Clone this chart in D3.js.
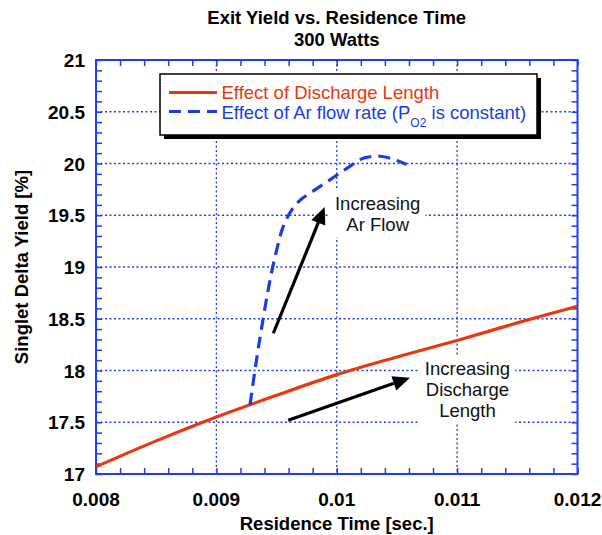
<!DOCTYPE html>
<html>
<head>
<meta charset="utf-8">
<script src="https://cdn.jsdelivr.net/npm/d3@7.9.0/dist/d3.min.js"></script>
<style>
  body { margin: 0; background: #fff; }
  svg { font-family: "Liberation Sans", Arial, sans-serif; }
</style>
</head>
<body>
<div id="chart"></div>
<script>
// Exit yield vs residence time, 300 W
const xTicks = [0.008, 0.009, 0.01, 0.011, 0.012];
const yTicks = [17, 17.5, 18, 18.5, 19, 19.5, 20, 20.5, 21];

// red: effect of discharge length
const lengthX = [0.008, 0.0085, 0.009, 0.0095, 0.01, 0.0105, 0.011, 0.0115, 0.012];
const lengthY = [17.07, 17.32, 17.55, 17.76, 17.96, 18.13, 18.29, 18.46, 18.62];

// blue: effect of Ar flow rate
const flowX = [0.00928, 0.00932, 0.00936, 0.009445, 0.0095, 0.009555, 0.009625, 0.0097, 0.0098, 0.00994, 0.01008, 0.01022, 0.01036, 0.0105, 0.01058];
const flowY = [17.67, 18.0, 18.3, 18.87, 19.16, 19.39, 19.55, 19.65, 19.73, 19.84, 19.95, 20.05, 20.07, 20.03, 19.99];

const RED = "#e8380f";
const BLUE = "#1a3ce6";
const GRID = "#1f3cf0";

const width = 602, height = 535;
const margin = { top: 60, right: 24.5, bottom: 61, left: 96 };

const svg = d3.select("#chart").append("svg")
  .attr("width", width)
  .attr("height", height);

const x = d3.scaleLinear().domain([0.008, 0.012]).range([margin.left, width - margin.right]);
const y = d3.scaleLinear().domain([17, 21]).range([height - margin.bottom, margin.top]);

// title
svg.append("text")
  .attr("x", (x.range()[0] + x.range()[1]) / 2).attr("y", 24)
  .attr("text-anchor", "middle").attr("font-weight", "bold").attr("font-size", 18.5)
  .text("Exit Yield vs. Residence Time");
svg.append("text")
  .attr("x", (x.range()[0] + x.range()[1]) / 2).attr("y", 46)
  .attr("text-anchor", "middle").attr("font-weight", "bold").attr("font-size", 18.5)
  .text("300 Watts");

// gridlines (dotted)
const grid = svg.append("g").attr("stroke", GRID).attr("stroke-width", 1.3).attr("stroke-dasharray", "2,2.5");
grid.selectAll(".gx").data(xTicks.slice(1, -1)).join("line")
  .attr("x1", d => x(d)).attr("x2", d => x(d))
  .attr("y1", y(21)).attr("y2", y(17));
grid.selectAll(".gy").data(yTicks.slice(1, -1)).join("line")
  .attr("x1", x(0.008)).attr("x2", x(0.012))
  .attr("y1", d => y(d)).attr("y2", d => y(d));

// minor ticks on all four sides, pointing inward
const xMinor = d3.range(0, 21).map(i => 0.008 + i * 0.0002);
const yMinor = d3.range(0, 41).map(i => 17 + i * 0.1);
const axisG = svg.append("g");
axisG.append("g").attr("transform", `translate(0,${y(17)})`)
  .call(d3.axisBottom(x).tickValues(xMinor).tickSizeInner(-6).tickSizeOuter(0).tickFormat(""));
axisG.append("g").attr("transform", `translate(0,${y(21)})`)
  .call(d3.axisTop(x).tickValues(xMinor).tickSizeInner(-6).tickSizeOuter(0).tickFormat(""));
axisG.append("g").attr("transform", `translate(${x(0.008)},0)`)
  .call(d3.axisLeft(y).tickValues(yMinor).tickSizeInner(-6).tickSizeOuter(0).tickFormat(""));
axisG.append("g").attr("transform", `translate(${x(0.012)},0)`)
  .call(d3.axisRight(y).tickValues(yMinor).tickSizeInner(-6).tickSizeOuter(0).tickFormat(""));
axisG.selectAll("line").attr("stroke", GRID).attr("stroke-width", 1.5);
axisG.selectAll(".domain").remove();

// frame
svg.append("rect")
  .attr("x", x(0.008)).attr("y", y(21))
  .attr("width", x(0.012) - x(0.008)).attr("height", y(17) - y(21))
  .attr("fill", "none").attr("stroke", GRID).attr("stroke-width", 2);

// tick labels
svg.append("g").selectAll("text").data(xTicks).join("text")
  .attr("x", d => x(d)).attr("y", y(17) + 32)
  .attr("text-anchor", "middle").attr("font-weight", "bold").attr("font-size", 19)
  .text(d => d3.format("")(d));
svg.append("g").selectAll("text").data(yTicks).join("text")
  .attr("x", x(0.008) - 11).attr("y", d => y(d) + 7)
  .attr("text-anchor", "end").attr("font-weight", "bold").attr("font-size", 19)
  .text(d => d);

// axis labels
svg.append("text")
  .attr("x", (x.range()[0] + x.range()[1]) / 2).attr("y", 530)
  .attr("text-anchor", "middle").attr("font-weight", "bold").attr("font-size", 18.5)
  .text("Residence Time [sec.]");
svg.append("text")
  .attr("transform", `translate(28,${(y(17) + y(21)) / 2}) rotate(-90)`)
  .attr("text-anchor", "middle").attr("font-weight", "bold").attr("font-size", 18.5)
  .text("Singlet Delta Yield [%]");

// annotation text with white boxes
function note(lines, cx, by) {
  const g = svg.append("g");
  const bg = g.append("rect").attr("fill", "#fff");
  const t = g.append("text").attr("text-anchor", "middle").attr("font-size", 18.5).attr("fill", "#111");
  lines.forEach((s, i) => {
    t.append("tspan").attr("x", x(cx)).attr("y", y(by) + i * 21).text(s);
  });
  const b = t.node().getBBox();
  bg.attr("x", b.x - 5).attr("y", b.y - 3).attr("width", b.width + 10).attr("height", b.height + 5);
}
note(["Increasing", "Ar Flow"], 0.01034, 19.55);
note(["Increasing", "Discharge", "Length"], 0.011086, 17.957);

// curves
const line = d3.line().x(d => x(d[0])).y(d => y(d[1])).curve(d3.curveCatmullRom);
svg.append("path")
  .datum(d3.zip(lengthX, lengthY))
  .attr("d", line).attr("fill", "none").attr("stroke", RED).attr("stroke-width", 3.2);
svg.append("path")
  .datum(d3.zip(flowX, flowY))
  .attr("d", line).attr("fill", "none").attr("stroke", BLUE).attr("stroke-width", 3.2)
  .attr("stroke-dasharray", "12,7");

// arrows
function arrow(x0, y0, x1, y1) {
  const px0 = x(x0), py0 = y(y0), px1 = x(x1), py1 = y(y1);
  const ang = Math.atan2(py1 - py0, px1 - px0);
  const L = 17, W = 7.5;
  const bx = px1 - L * Math.cos(ang), by = py1 - L * Math.sin(ang);
  svg.append("line")
    .attr("x1", px0).attr("y1", py0).attr("x2", bx).attr("y2", by)
    .attr("stroke", "#000").attr("stroke-width", 3.2);
  svg.append("path")
    .attr("d", `M${px1},${py1}L${bx - W * Math.sin(ang)},${by + W * Math.cos(ang)}L${bx + W * Math.sin(ang)},${by - W * Math.cos(ang)}Z`)
    .attr("fill", "#000");
}
arrow(0.009473, 18.36, 0.0099, 19.58);
arrow(0.009597, 17.52, 0.010608, 17.93);

// legend
const lg = svg.append("g");
lg.append("rect").attr("x", 164).attr("y", 78).attr("width", 377).attr("height", 61).attr("fill", "#000");
lg.append("rect").attr("x", 160).attr("y", 74).attr("width", 377).attr("height", 61)
  .attr("fill", "#fff").attr("stroke", "#000").attr("stroke-width", 1.5);
lg.append("line").attr("x1", 169).attr("x2", 217).attr("y1", 92.5).attr("y2", 92.5)
  .attr("stroke", RED).attr("stroke-width", 3.2);
lg.append("line").attr("x1", 169).attr("x2", 217).attr("y1", 111.5).attr("y2", 111.5)
  .attr("stroke", BLUE).attr("stroke-width", 3.2).attr("stroke-dasharray", "12,7");
lg.append("text").attr("x", 221.5).attr("y", 98.5).attr("font-size", 18.5).attr("fill", RED)
  .text("Effect of Discharge Length");
const t2 = lg.append("text").attr("x", 221.5).attr("y", 118.5).attr("font-size", 18.5).attr("fill", BLUE);
t2.append("tspan").text("Effect of Ar flow rate (P");
t2.append("tspan").attr("font-size", 12).attr("dy", 8).text("O2");
t2.append("tspan").attr("dy", -8).text(" is constant)");
</script>
</body>
</html>
